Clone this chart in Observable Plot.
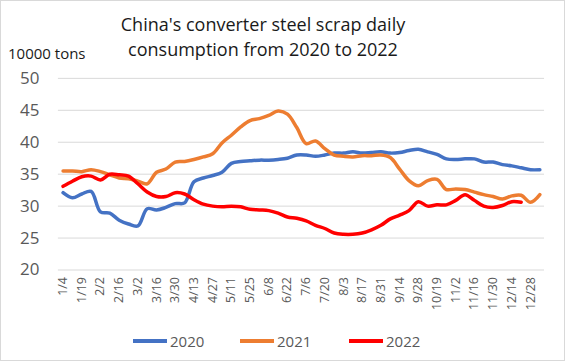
<!DOCTYPE html>
<html>
<head>
<meta charset="utf-8">
<script src="https://cdn.jsdelivr.net/npm/d3@7"></script>
<script src="https://cdn.jsdelivr.net/npm/@observablehq/plot@0.6"></script>
<style>
  html, body { margin: 0; padding: 0; background: #fff; }
  #wrap { position: relative; width: 565px; height: 361px; box-sizing: border-box; border: 1px solid #d9d9d9; font-family: "Open Sans", "Noto Sans", sans-serif; overflow: hidden; }
  #chart { position: absolute; left: -1px; top: -1px; }
  #title { position: absolute; left: 62px; width: 400px; top: 11px; text-align: center; font-size: 18px; line-height: 25px; color: #1a1a1a; }
  #unit { position: absolute; left: 7px; top: 42px; font-size: 15px; color: #1a1a1a; }
  .leg { position: absolute; top: 330px; font-size: 15px; color: #595959; line-height: 20px; display: flex; align-items: center; }
  .sw { display: inline-block; width: 34px; height: 4px; margin-right: 3px; }
</style>
</head>
<body>
<div id="wrap">
  <div id="chart"></div>
  <div id="title">China's converter steel scrap daily<br>consumption from 2020 to 2022</div>
  <div id="unit">10000 tons</div>
  <div id="legend"></div>
</div>
<script>
const xLabels = ["1/4","1/19","2/2","2/16","3/2","3/16","3/30","4/13","4/27","5/11","5/25","6/8","6/22","7/6","7/20","8/3","8/17","8/31","9/14","9/28","10/19","11/2","11/16","11/30","12/14","12/28"];
const yTicks = [20, 25, 30, 35, 40, 45, 50];
const series = ["2020", "2021", "2022"];
const colors = ["#4472C4", "#ED7D31", "#FF0000"];

const v2020 = [32.1,31.3,31.9,32.3,29.1,28.9,27.8,27.2,26.9,29.6,29.4,29.8,30.4,30.5,33.8,34.4,34.8,35.3,36.7,37.0,37.1,37.2,37.2,37.3,37.5,38.0,38.0,37.8,38.0,38.3,38.3,38.5,38.3,38.4,38.5,38.3,38.4,38.7,38.9,38.5,38.1,37.4,37.3,37.4,37.4,36.9,36.9,36.5,36.3,36.0,35.7,35.7];
const v2021 = [35.5,35.5,35.4,35.7,35.4,34.9,34.4,34.3,33.9,33.5,35.3,35.8,36.9,37.0,37.3,37.7,38.2,39.9,41.1,42.4,43.4,43.7,44.2,44.9,44.4,42.3,39.8,40.2,39.0,38.0,37.8,37.7,37.9,37.9,38.0,37.6,35.8,34.0,33.2,34.0,34.2,32.6,32.7,32.6,32.2,31.8,31.5,31.1,31.6,31.7,30.6,31.8];
const v2022 = [33.1,33.9,34.6,34.7,34.1,35.0,34.9,34.7,33.5,32.2,31.5,31.5,32.1,31.9,31.0,30.3,30.0,29.9,30.0,29.9,29.5,29.4,29.3,28.9,28.3,28.1,27.7,27.0,26.5,25.8,25.6,25.6,25.8,26.3,27.0,28.0,28.6,29.3,30.7,30.0,30.2,30.2,30.9,31.8,30.9,30.0,29.8,30.1,30.7,30.6];

const values = [v2020, v2021, v2022];
const rows = [];
values.forEach((arr, s) => arr.forEach((v, i) => rows.push({i, v, s: series[s]})));
const tickIdx = xLabels.map((_, k) => k * 2);

const chart = Plot.plot({
  width: 565,
  height: 361,
  marginLeft: 58,
  marginRight: 20,
  marginTop: 78,
  marginBottom: 91,
  style: { background: "transparent", fontFamily: "'Open Sans', sans-serif", color: "#595959" },
  x: { domain: [-0.5, 51.5], axis: null, label: null },
  y: { domain: [20, 50], axis: null, label: null },
  color: { domain: series, range: colors },
  marks: [
    Plot.gridY(yTicks, { stroke: "#d9d9d9", strokeOpacity: 1, strokeWidth: 1 }),
    Plot.axisY({ ticks: yTicks, tickSize: 0, tickPadding: 19, fontSize: 17, label: null }),
    Plot.axisX({ ticks: tickIdx, tickFormat: d => xLabels[d / 2], tickRotate: -90, tickSize: 0, tickPadding: 7, fontSize: 12.5, label: null }),
    Plot.line(rows, { x: "i", y: "v", z: "s", stroke: "s", strokeWidth: 3.5, curve: "catmull-rom" })
  ]
});
document.getElementById("chart").appendChild(chart);

const legend = document.getElementById("legend");
const legX = [132, 239, 348];
series.forEach((s, k) => {
  const d = document.createElement("div");
  d.className = "leg";
  d.style.left = legX[k] + "px";
  d.innerHTML = `<span class="sw" style="background:${colors[k]}"></span>${s}`;
  legend.appendChild(d);
});
</script>
</body>
</html>
